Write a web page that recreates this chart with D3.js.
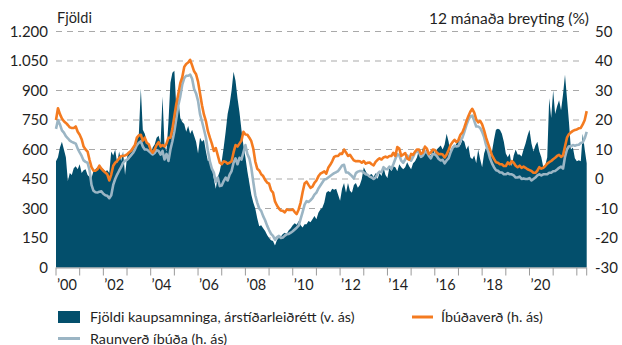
<!DOCTYPE html>
<html lang="is">
<head>
<meta charset="utf-8">
<script src="https://cdn.jsdelivr.net/npm/d3@7"></script>
<style>
  html, body { margin: 0; padding: 0; background: #fff; }
  svg { display: block; font-family: Lato, "Open Sans", sans-serif; }
</style>
</head>
<body>
<svg id="chart" width="622" height="345"></svg>
<script>
// Monthly series, January 2000 – June 2022
const startYear = 2000;

// Fjöldi kaupsamninga, árstíðarleiðrétt (left axis)
const fjoldi = [
  540,560,610,640,600,560,440,480,470,505, 515,500,525,480,495,500,470,460,455,490,
  500,510,520,510,500,490,495,480,590,570, 600,530,590,540,590,470,560,590,600,610,
  620,650,680,910,700,680,
  640,620,575,610,625,660,670,630,870,620, 590,740,940,990,1000,810,860,760,740,730,
  690,720,680,700,670,640,580,660,640,650, 590,540,550,510,450,400,460,490,540,610,
  690,780,830,900,995,950,
  860,790,700,620,560,490,430,370,
  330,300,250,210,215,200,185,165,150,138, 135,112,140,150,158,170,177,172,190,200,
  215,225,218,236,215,203,220,220,236,230, 245,262,245,279,295,304,330,380,
  389,383,400,395,400,370,340,400,430,380, 430,390,380,420,430,405,420,450,510,490,
  470,470,475,460,480,450,480,465,510,470, 455,510,490,515,510,490,525,510,500,510,
  535,515,500,530,540,560,
  600,560,610,591,600,580,570,600,580,600, 610,620,600,625,680,640,580,615,610,630,
  660,620,650,640,600,620,560,550,570,530, 600,550,510,580,610,590,560,590,650,700,
  705,700,680,640,580,
  560,580,515,570,600,575,575,565,600,630, 670,700,630,590,620,640,590,560,510,520,
  560,860,760,900,780,820,850,800,880,980, 860,740,600,610,555,540,545,540,680,600,
  530
];

// Íbúðaverð, 12 mánaða breyting % (right axis)
const ibudaverd = [
  20,24,22,20.5,19.6,19,18.3,17.5,17.3,17.3, 17.8,16,15,13.5,11,10,9.3,6.5,4,2.8,
  2.8,3.3,4.5,3.5,2.8,2.2,1.6,-0.5,1.5,4.5, 5.5,6.1,7,7.8,7.8,8,8.3,9,9.5,10.5,
  11.5,14,14.8,15,13,14,
  12.3,11.8,9.8,8.9,10,11.5,12.5,11,11.5,11, 12,14,14,17,21.3,25.5,28.8,32.5,34.5,38,
  39,39.5,40.4,38.5,36.5,35.5,33,29,25,21.8, 19.6,16.2,14,12,9.5,10.5,8,5.5,5,6,
  5.8,5.2,5.5,6,9,11.5,
  11,12,13,16,15.1,15,14,12.8,
  10.3,6,3.5,2.9,1.6,1,-0.3,-1.2,-1.6,-3.8, -4.6,-7.6,-9,-10,-10.7,-10.8,-11.3,-10.3,-10.5,-10.5,
  -10.3,-11.2,-11.9,-10.3,-8,-4.5,-1.5,-0.9,-2,-3, -2.6,-1.3,-0.5,0.9,1.8,2.2,2.6,1.8,
  3.8,4.8,6,7.5,7.8,7.8,8.6,8.5,10,9, 7.8,8.2,7.2,6.3,6,6.1,6,5.5,6.1,5.2,
  5.5,5.6,5,4.6,5.8,6.5,7,6.6,7.3,7.6, 7.3,7.8,7.8,8.9,7.8,10.8,10.3,7.8,8.3,8.8,
  7,6.5,8.5,8.2,9.3,10,
  10,8.5,9,11,10.3,8.5,9,10,9.8,9, 8.4,8.5,8.3,7.3,8.3,9.8,11.5,12.5,13.3,12.5,
  13.2,15,15.8,17.5,19.5,21.3,22.8,23.8,22.5,20.2, 19.2,19.7,18.5,16.5,14,12,10,8,6.8,5.7,
  5.5,5,5,4.4,4.4,
  5.6,5,6.1,5.5,4.5,4,4.5,3.8,4.2,3.8, 3.3,3,2.7,2.1,2.1,2.8,4,3.5,3.8,4.4,
  5.2,5.7,6.1,6.7,7.2,7.8,8.2,7.5,8,11, 14,15.2,15.8,16.3,16.6,16.8,17.2,17.3,18.5,20,
  23
];

// Raunverð íbúða, 12 mánaða breyting % (right axis)
const raunverd = [
  17,20,18.5,16.5,15.7,14.5,13.8,13,12.6,12.3, 12,10.3,9,7.8,6.3,5.8,5.5,3,-2,-4,
  -4.5,-4.6,-4.3,-4.2,-5,-5.5,-5.7,-6.5,-5.5,-2, 0,1.5,2.8,4,5.5,6.2,6.5,7.2,8,8.8,
  10,11.5,12.3,12.8,11,10,
  10,9.5,8.9,8.3,8.8,9.8,9.5,8.3,9.5,6.6, 8.5,6.1,10,12.8,16.2,20.5,25,28,32,34.2,
  35,35,35.4,34,30.5,29,26.5,22,19.5,16.8, 14,9.5,6,3.5,2.2,-1,0.5,-2.4,-2.2,-0.7,
  0.5,-0.5,1.5,2.7,5.5,7,
  5,7.2,6.6,9,11.5,8.5,7,3.8,
  -1,-5.5,-8,-10,-10.8,-12.6,-14,-15.8,-17.3,-18.6, -19.3,-20.6,-19.7,-19.3,-20,-19.8,-19.2,-18.7,-18.6,-18.2,
  -17.7,-17.1,-16.5,-15.8,-13.5,-11.2,-8.7,-7.5,-7.8,-7.2, -6.5,-5.3,-4.6,-3.2,-2.2,-1.2,-0.2,0,
  0.5,1,1.5,2,2.3,2.7,3.6,4.6,4.8,2.2, 2.2,1.6,1.0,0.2,2,2.5,2.7,2.7,2.2,1.6,
  1.4,0.8,0.5,0,0.5,1.8,2.5,2.3,4,3.4, 3.3,4.2,3.4,5,6.8,8.4,8,6.2,5.5,6.6,
  8,7.2,6.2,7.5,8.9,9.3,
  9,7.5,8,9.3,9,7.8,7,8.5,8.4,7.8, 6.8,6.3,6.5,5.3,6.3,7,9,10.5,11.3,11,
  11.2,13,14,16,18.2,20,21.2,21.5,19.7,17.8, 17.8,17.3,16,14.2,11.5,9.5,7,5.3,4,3,
  2.8,2.2,2.2,1.6,1.6,
  2,1.6,1.6,1.2,0.5,0.5,0.8,0,0.2,0, 0,0.3,-0.5,0,0.5,1.2,1.6,1.2,1.6,1.6,
  1.6,2.1,2.1,2.6,2.7,3.2,3.8,4.2,3.5,7.5, 10,11.1,11.1,11.5,11.3,11.5,11.6,12.2,12.4,13.8,
  16
];

// Axis ticks
const leftTicks = [0,150,300,450,600,750,900,1050,1200];
const rightTicks = [-30,-20,-10,0,10,20,30,40,50];
const yearTicks = d3.range(2000, 2023);
const yearLabels = d3.range(2000, 2021, 2);

const leftTitle = "Fjöldi";
const rightTitle = "12 mánaða breyting (%)";
const legendItems = [
  { key: "fjoldi", label: "Fjöldi kaupsamninga, árstíðarleiðrétt (v. ás)" },
  { key: "ibud", label: "Íbúðaverð (h. ás)" },
  { key: "raun", label: "Raunverð íbúða (h. ás)" }
];

const colors = { fjoldi: "#034f6c", ibud: "#f47b20", raun: "#9bb5c4" };
const textColor = "#1f1f1f";

const svg = d3.select("#chart");
const plotLeft = 56, plotRight = 586.7, plotTop = 31.5, plotBottom = 267.5;
const nMonths = fjoldi.length;

const x = d3.scaleLinear().domain([0, nMonths - 1]).range([plotLeft, plotRight]);
const yL = d3.scaleLinear().domain([0, 1200]).range([plotBottom, plotTop]);
const yR = d3.scaleLinear().domain([-30, 50]).range([plotBottom, plotTop]);
const monthOf = yr => (yr - startYear) * 12;

// dashed gridlines
svg.append("g").selectAll("line")
  .data(leftTicks.filter(d => d > 0))
  .join("line")
  .attr("x1", plotLeft).attr("x2", plotRight - 3)
  .attr("y1", d => yL(d)).attr("y2", d => yL(d))
  .attr("stroke", "#a9a9a9").attr("stroke-width", 1)
  .attr("stroke-dasharray", "6,5");

// number of contracts area
svg.append("path")
  .datum(fjoldi)
  .attr("fill", colors.fjoldi)
  .attr("d", d3.area().x((d, i) => x(i)).y0(yL(0)).y1(d => yL(d)));

// price lines
const line = d3.line().x((d, i) => x(i)).y(d => yR(d));
svg.append("path").datum(raunverd)
  .attr("fill", "none").attr("stroke", colors.raun)
  .attr("stroke-width", 2.6).attr("stroke-linejoin", "round")
  .attr("d", line);
svg.append("path").datum(ibudaverd)
  .attr("fill", "none").attr("stroke", colors.ibud)
  .attr("stroke-width", 2.6).attr("stroke-linejoin", "round")
  .attr("d", line);

// x axis ticks and labels
const xa = svg.append("g");
xa.append("line").attr("x1", plotLeft).attr("x2", plotRight)
  .attr("y1", plotBottom + 0.5).attr("y2", plotBottom + 0.5)
  .attr("stroke", "#9a9a9a");
xa.selectAll("line.tk")
  .data(yearTicks.map(monthOf).concat([nMonths - 1]))
  .join("line").attr("class", "tk")
  .attr("x1", d => x(d)).attr("x2", d => x(d))
  .attr("y1", plotBottom).attr("y2", plotBottom + 8)
  .attr("stroke", "#9a9a9a").attr("stroke-width", 1);
xa.selectAll("text")
  .data(yearLabels)
  .join("text")
  .attr("x", d => x(monthOf(d) + 5.5))
  .attr("y", 290)
  .attr("text-anchor", "middle")
  .attr("font-size", 14.5).attr("fill", textColor)
  .text(d => "\u2019" + String(d % 100).padStart(2, "0"));

// left axis labels
const fmt = d3.formatLocale({ decimal: ",", thousands: ".", grouping: [3], currency: ["", ""] }).format(",");
svg.append("g").selectAll("text")
  .data(leftTicks).join("text")
  .attr("x", 48).attr("y", d => yL(d)).attr("dy", "0.36em")
  .attr("text-anchor", "end").attr("font-size", 15).attr("fill", textColor)
  .text(d => fmt(d));

// right axis labels
svg.append("g").selectAll("text")
  .data(rightTicks).join("text")
  .attr("x", 595).attr("y", d => yR(d)).attr("dy", "0.36em")
  .attr("text-anchor", "start").attr("font-size", 15).attr("fill", textColor)
  .text(d => d < 0 ? "-" + Math.abs(d) : String(d));

// axis titles
svg.append("text").attr("x", 57).attr("y", 23)
  .attr("font-size", 14.5).attr("fill", textColor).text(leftTitle);
svg.append("text").attr("x", 589).attr("y", 24).attr("text-anchor", "end")
  .attr("font-size", 15.5).attr("fill", textColor).text(rightTitle);

// legend
const lg = svg.append("g").attr("font-size", 14.3).attr("fill", textColor);
lg.append("rect").attr("x", 58).attr("y", 311).attr("width", 22).attr("height", 12)
  .attr("fill", colors.fjoldi);
lg.append("text").attr("x", 90).attr("y", 322).text(legendItems[0].label);
lg.append("line").attr("x1", 412).attr("x2", 433).attr("y1", 317).attr("y2", 317)
  .attr("stroke", colors.ibud).attr("stroke-width", 3);
lg.append("text").attr("x", 441).attr("y", 322).text(legendItems[1].label);
lg.append("line").attr("x1", 58).attr("x2", 80).attr("y1", 338.5).attr("y2", 338.5)
  .attr("stroke", colors.raun).attr("stroke-width", 3);
lg.append("text").attr("x", 90).attr("y", 343.5).text(legendItems[2].label);
</script>
</body>
</html>
